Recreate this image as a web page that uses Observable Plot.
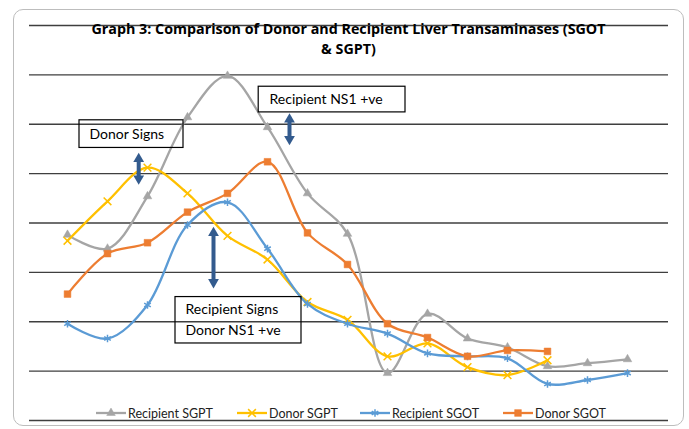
<!DOCTYPE html>
<html>
<head>
<meta charset="utf-8">
<script src="https://cdn.jsdelivr.net/npm/d3@7"></script>
<script src="https://cdn.jsdelivr.net/npm/@observablehq/plot@0.6"></script>
<style>
  body { margin: 0; background: #fff; }
  #wrap { position: relative; width: 689px; height: 429px; overflow: hidden; font-family: Lato, "Open Sans", sans-serif; }
  #frame { position: absolute; left: 13px; top: 9px; width: 669px; height: 415px; border: 1px solid #bdbdbd; border-radius: 10px; pointer-events: none; }
  #title { position: absolute; left: 0; width: 697px; top: 19px; text-align: center; font-family: "Open Sans", Lato, sans-serif; font-weight: bold; font-size: 14.3px; line-height: 20px; color: #000; }
  #chart { position: absolute; left: 0; top: 0; }
  .leg { position: absolute; top: 405px; height: 16px; display: flex; align-items: center; font-size: 12.5px; color: #222; white-space: nowrap; }
  .leg svg { margin-right: 2px; }
</style>
</head>
<body>
<div id="wrap">
  <div id="chart"></div>
  <div id="frame"></div>
  <div id="title">Graph 3: Comparison of Donor and Recipient Liver Transaminases (SGOT<br>&amp; SGPT)</div>
</div>
<script>
// ---- data (arbitrary units; gridlines every 50) ----
const recipientSGPT = [188, 174, 227, 307, 349, 297, 230, 189, 48, 108, 83, 74, 55, 58, 62];
const donorSGPT     = [182, 222, 256, 230, 187, 163, 120, 102, 65, 78, 54, 46, 61];
const recipientSGOT = [98, 83, 117, 198, 221, 174, 118, 98, 88, 68, 65, 63, 37, 41, 48];
const donorSGOT     = [128, 169, 180, 211, 230, 262, 190, 158, 98, 84, 65, 71, 70];
const gridValues = [0, 50, 100, 150, 200, 250, 300, 350, 400];

const seriesNames  = ["Recipient SGPT", "Donor SGPT", "Recipient SGOT", "Donor SGOT"];
const seriesValues = [recipientSGPT, donorSGPT, recipientSGOT, donorSGOT];
const seriesColors = ["#a5a5a5", "#ffc000", "#5b9bd5", "#ed7d31"];
const seriesSymbols = ["triangle", "times", "asterisk", "square"];

// annotations (in data units: x = observation index, y = value)
const annotationBoxes = [
  {x1: 1.3, x2: 3.9, y1: 276, y2: 304},
  {x1: 5.78, x2: 9.45, y1: 312, y2: 338},
  {x1: 3.7, x2: 6.85, y1: 78, y2: 125}
];
const annotationTexts = [
  {text: "Donor Signs", x: 1.55, y: 290},
  {text: "Recipient NS1 +ve", x: 6.05, y: 325},
  {text: "Recipient Signs", x: 3.95, y: 112},
  {text: "Donor NS1 +ve", x: 3.95, y: 91}
];
const annotationArrows = [
  {x: 2.78, top: 269, bottom: 241},
  {x: 6.55, top: 309, bottom: 281},
  {x: 4.65, top: 194, bottom: 136}
];

// ---- build tidy table ----
const rows = [];
seriesNames.forEach((name, s) => {
  seriesValues[s].forEach((v, i) => rows.push({series: name, idx: i + 1, value: v}));
});

const arrowColor = "#335b8e";
const marks = [
  Plot.ruleY(gridValues, {stroke: "#3f3f3f", strokeWidth: 1.3})
];
seriesNames.forEach((name, s) => {
  const d = rows.filter(r => r.series === name);
  marks.push(Plot.line(d, {x: "idx", y: "value", stroke: seriesColors[s], strokeWidth: 2.3, curve: "catmull-rom"}));
  const sym = seriesSymbols[s];
  const filled = sym === "triangle" || sym === "square";
  marks.push(Plot.dot(d, {
    x: "idx", y: "value", symbol: () => sym,
    r: sym === "triangle" ? 3.2 : (sym === "square" ? 3.8 : 3.6),
    fill: filled ? seriesColors[s] : "none",
    stroke: seriesColors[s], strokeWidth: filled ? 0.5 : 1.5
  }));
});
marks.push(
  Plot.rect(annotationBoxes, {x1: "x1", x2: "x2", y1: "y1", y2: "y2", fill: "none", stroke: "#000", strokeWidth: 1.2}),
  Plot.text(annotationTexts, {x: "x", y: "y", text: "text", textAnchor: "start", fontSize: 14, fill: "#000", fontFamily: "Lato"}),
  Plot.ruleX(annotationArrows, {x: "x", y1: d => d.top - 4, y2: d => d.bottom + 4, stroke: arrowColor, strokeWidth: 4}),
  Plot.dot(annotationArrows, {x: "x", y: "top", symbol: "triangle", r: 4, fill: arrowColor, dy: 4}),
  Plot.dot(annotationArrows, {x: "x", y: "bottom", symbol: "triangle", r: 4, fill: arrowColor, dy: -4, rotate: 180})
);

const chart = Plot.plot({
  width: 689,
  height: 429,
  marginLeft: 29,
  marginRight: 21,
  marginTop: 25,
  marginBottom: 9,
  x: {domain: [0.05, 16.025], axis: null},
  y: {domain: [0, 400], axis: null},
  style: {background: "transparent", fontFamily: "Lato"},
  marks
});
document.getElementById("chart").appendChild(chart);

// ---- legend (HTML overlay at the bottom, over the plot area) ----
const legendLeft = [96, 237, 360, 503];
const wrap = document.getElementById("wrap");
seriesNames.forEach((name, s) => {
  const div = document.createElement("div");
  div.className = "leg";
  div.style.left = legendLeft[s] + "px";
  const svg = d3.create("svg").attr("width", 30).attr("height", 12);
  svg.append("line").attr("x1", 0).attr("x2", 30).attr("y1", 6).attr("y2", 6)
    .attr("stroke", seriesColors[s]).attr("stroke-width", 2.3);
  const sym = seriesSymbols[s];
  const d3sym = {triangle: d3.symbolTriangle, times: d3.symbolTimes, asterisk: d3.symbolAsterisk, square: d3.symbolSquare}[sym];
  const filled = sym === "triangle" || sym === "square";
  const rr = sym === "triangle" ? 3.2 : (sym === "square" ? 3.8 : 3.6);
  svg.append("path").attr("transform", "translate(15,6)")
    .attr("d", d3.symbol(d3sym, rr * rr * Math.PI)())
    .attr("fill", filled ? seriesColors[s] : "none")
    .attr("stroke", seriesColors[s]).attr("stroke-width", filled ? 0.5 : 1.5);
  div.appendChild(svg.node());
  const span = document.createElement("span");
  span.textContent = name;
  div.appendChild(span);
  wrap.appendChild(div);
});
</script>
</body>
</html>
